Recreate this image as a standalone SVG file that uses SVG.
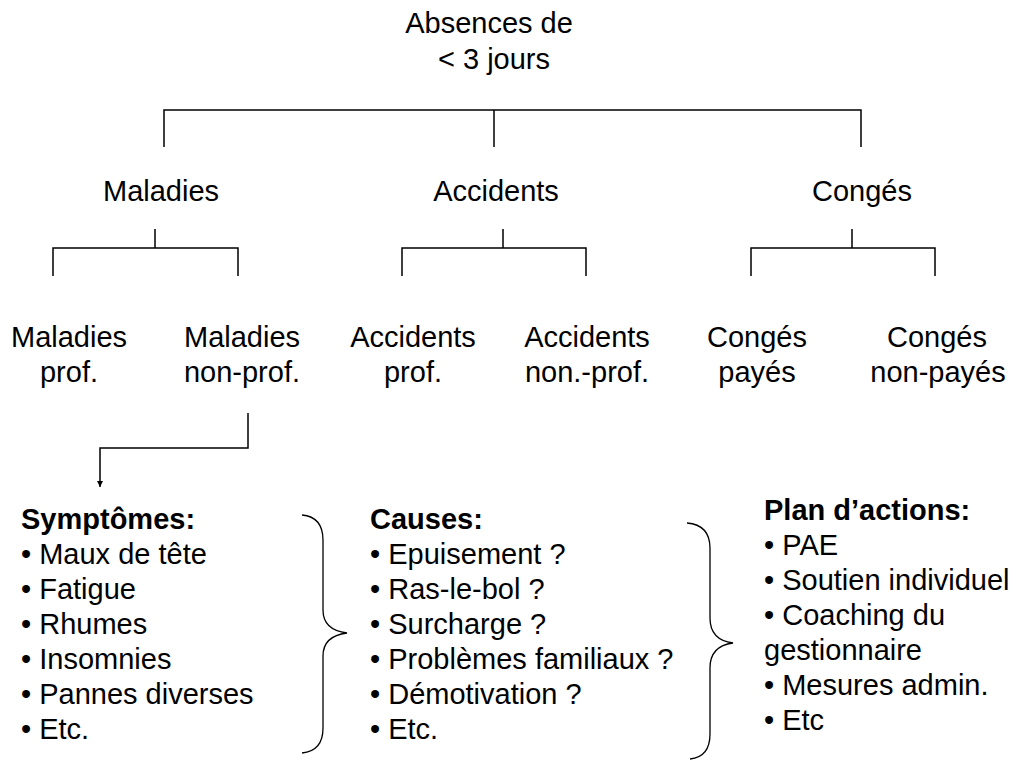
<svg xmlns="http://www.w3.org/2000/svg" width="1010" height="760" viewBox="0 0 1010 760">
  <style>
    text { font-family: "Liberation Sans", Arial, sans-serif; font-size: 29px; fill: #000; }
    .mid { text-anchor: middle; }
    .head { font-weight: bold; }
    .ln { fill: none; stroke: #000; stroke-width: 1.5; }
    .brace { fill: none; stroke: #000; stroke-width: 1.3; }
  </style>
  <defs>
    <marker id="arrow" viewBox="0 0 10 10" refX="10" refY="5" markerWidth="9" markerHeight="6" markerUnits="userSpaceOnUse" orient="auto">
      <path d="M0,0 L10,5 L0,10 z" fill="#000"/>
    </marker>
  </defs>

  <!-- connectors -->
  <g id="connectors">
    <path class="ln" d="M164,147 V110 H861 V147 M494,110 V147"/>
    <path class="ln" d="M155,229 V248 M53,276 V248 H238 V276"/>
    <path class="ln" d="M503,229 V248 M402,276 V248 H586 V276"/>
    <path class="ln" d="M852,229 V248 M751,276 V248 H935 V276"/>
    <path class="ln" d="M248,413 V448 H100 V487" marker-end="url(#arrow)"/>
    <path class="brace" d="M302,515 Q323,517 323,540 V610 Q323,630 347,633 Q323,636 323,656 V728 Q323,751 302,753"/>
    <path class="brace" d="M687,523 Q710,525 710,548 V618 Q710,640 733,643 Q710,646 710,668 V734 Q710,757 690,759"/>
  </g>

  <!-- root -->
  <g id="root">
    <text class="mid" x="489" y="33">Absences de</text>
    <text class="mid" x="494" y="69">&lt; 3 jours</text>
  </g>

  <!-- categories -->
  <g id="maladies"><text class="mid" x="161" y="201">Maladies</text></g>
  <g id="accidents"><text class="mid" x="496" y="201">Accidents</text></g>
  <g id="conges"><text class="mid" x="862" y="201">Congés</text></g>

  <!-- leaves -->
  <g id="maladies-prof">
    <text class="mid" x="69" y="347">Maladies</text>
    <text class="mid" x="69" y="382">prof.</text>
  </g>
  <g id="maladies-non-prof">
    <text class="mid" x="242" y="347">Maladies</text>
    <text class="mid" x="242" y="382">non-prof.</text>
  </g>
  <g id="accidents-prof">
    <text class="mid" x="413" y="347">Accidents</text>
    <text class="mid" x="413" y="382">prof.</text>
  </g>
  <g id="accidents-non-prof">
    <text class="mid" x="587" y="347">Accidents</text>
    <text class="mid" x="587" y="382">non.-prof.</text>
  </g>
  <g id="conges-payes">
    <text class="mid" x="757" y="347">Congés</text>
    <text class="mid" x="757" y="382">payés</text>
  </g>
  <g id="conges-non-payes">
    <text class="mid" x="937" y="347">Congés</text>
    <text class="mid" x="938" y="382">non-payés</text>
  </g>

  <!-- lists -->
  <g id="symptomes">
    <text class="head" x="21" y="529">Symptômes:</text>
    <text x="21" y="564">• Maux de tête</text>
    <text x="21" y="599">• Fatigue</text>
    <text x="21" y="634">• Rhumes</text>
    <text x="21" y="669">• Insomnies</text>
    <text x="21" y="704">• Pannes diverses</text>
    <text x="21" y="739">• Etc.</text>
  </g>
  <g id="causes">
    <text class="head" x="370" y="529">Causes:</text>
    <text x="370" y="564">• Epuisement ?</text>
    <text x="370" y="599">• Ras-le-bol ?</text>
    <text x="370" y="634">• Surcharge ?</text>
    <text x="370" y="669">• Problèmes familiaux ?</text>
    <text x="370" y="704">• Démotivation ?</text>
    <text x="370" y="739">• Etc.</text>
  </g>
  <g id="plan">
    <text class="head" x="764" y="520">Plan d’actions:</text>
    <text x="764" y="555">• PAE</text>
    <text x="764" y="590">• Soutien individuel</text>
    <text x="764" y="625">• Coaching du</text>
    <text x="764" y="660">gestionnaire</text>
    <text x="764" y="695">• Mesures admin.</text>
    <text x="764" y="730">• Etc</text>
  </g>
</svg>
